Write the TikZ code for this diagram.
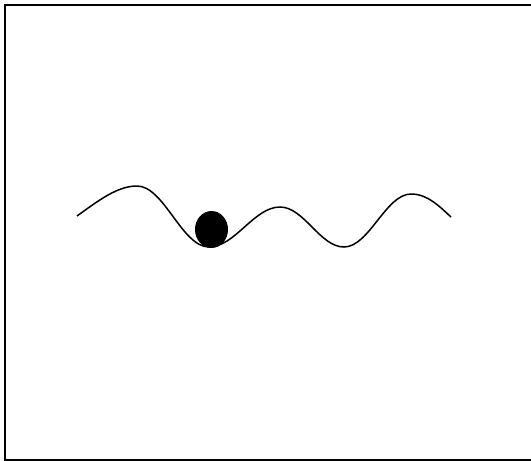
\documentclass[tikz,border=0pt]{standalone}
\usetikzlibrary{shapes.geometric}
\begin{document}
\begin{tikzpicture}[x=1pt,y=-1pt,
  frame/.style={line width=2pt,black},
  wave/.style={line width=1.5pt,black},
  ball/.style={fill=black,draw=none}]
\useasboundingbox (0,0) rectangle (531,461);
\draw[frame] (531,4.5) -- (4.5,4.5) -- (4.5,459.5) -- (531,459.5);
\coordinate (s) at (77,216);
\coordinate (p1) at (137,186);
\coordinate (t1) at (209,247);
\coordinate (p2) at (280,207);
\coordinate (t2) at (344,247);
\coordinate (p3) at (411,194);
\coordinate (e) at (451,217);
\draw[wave] (s) .. controls (98,201) and (117,186) .. (p1)
  .. controls (164,186) and (182,247) .. (t1)
  .. controls (235,247) and (254,207) .. (p2)
  .. controls (304,207) and (320,247) .. (t2)
  .. controls (369,247) and (386,194) .. (p3)
  .. controls (428,194) and (440,207) .. (e);
\node[ball,ellipse,minimum width=33pt,minimum height=37pt,inner sep=0pt] (b) at (211.5,229.5) {};
\end{tikzpicture}
\end{document}
